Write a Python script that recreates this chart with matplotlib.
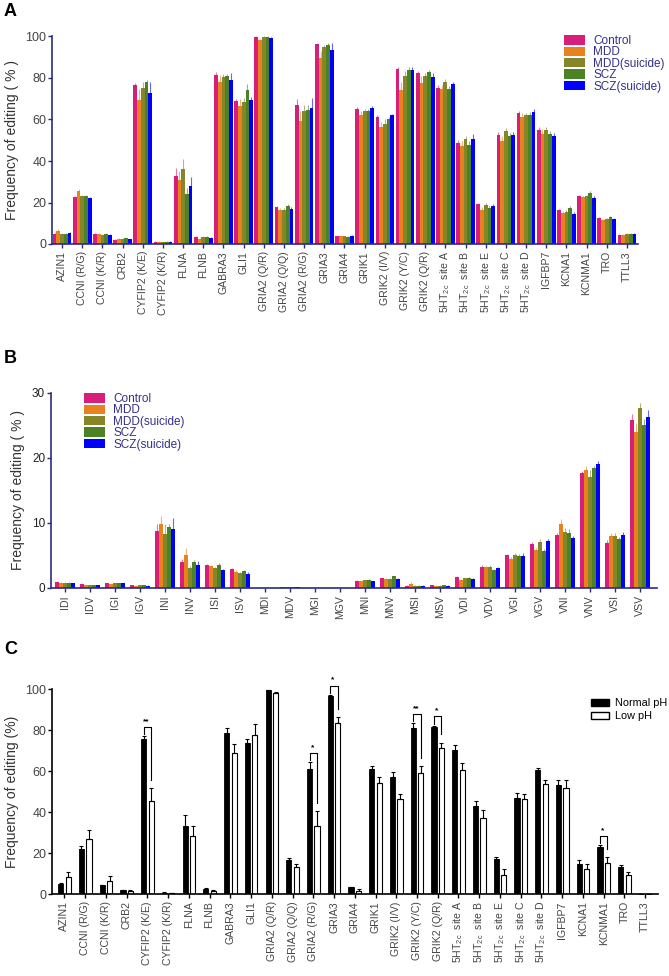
import numpy as np
import matplotlib
matplotlib.use("Agg")
import matplotlib.pyplot as plt
from matplotlib.patches import Patch

plt.rcParams["font.family"] = ["Liberation Sans", "DejaVu Sans"]
plt.rcParams["mathtext.fontset"] = "custom"
plt.rcParams["mathtext.rm"] = "Liberation Sans"
plt.rcParams["mathtext.default"] = "regular"

# ---------------- data ----------------
genes = ["AZIN1", "CCNI (R/G)", "CCNI (K/R)", "CRB2", "CYFIP2 (K/E)", "CYFIP2 (K/R)",
         "FLNA", "FLNB", "GABRA3", "GLI1", "GRIA2 (Q/R)", "GRIA2 (Q/Q)", "GRIA2 (R/G)",
         "GRIA3", "GRIA4", "GRIK1", "GRIK2 (I/V)", "GRIK2 (Y/C)", "GRIK2 (Q/R)",
         "5HT$_{2c}$  site A", "5HT$_{2c}$  site B", "5HT$_{2c}$  site E",
         "5HT$_{2c}$  site C", "5HT$_{2c}$  site D", "IGFBP7", "KCNA1", "KCNMA1", "TRO", "TTLL3"]

groups = ["Control", "MDD", "MDD(suicide)", "SCZ", "SCZ(suicide)"]
group_colors = ["#D81E78", "#E8821E", "#85852A", "#4B8226", "#0000FF"]

a_control = [5, 22.5, 5, 2, 76.5, 1.2, 33, 3.3, 81.5, 69, 99.8, 17.8, 67, 96.5, 3.7, 65, 61, 84.5,
             82.5, 75, 48.5, 19.3, 52.5, 63, 55, 16.5, 23, 12.5, 4.5]
a_mdd = [6.5, 25.5, 5, 2.5, 69.5, 1.2, 31, 2.5, 78, 66.5, 98.5, 16.5, 59.5, 89.5, 3.7, 62, 56.5, 74,
         77.5, 74.5, 47, 16.5, 49.5, 61, 53, 15, 22.5, 11.5, 4.3]
a_mdd_s = [5, 23, 4.5, 2.5, 75, 1, 36, 3.3, 80.5, 68.5, 99.8, 16.5, 64, 95, 3.7, 64, 58, 81,
           81, 78, 50.5, 19, 54.5, 62, 55, 15.5, 23, 12, 4.8]
a_scz = [5, 23, 4.8, 2.8, 78, 1.2, 24, 3.3, 81, 74, 99.8, 18.5, 64.5, 96, 3.5, 64, 60, 84,
         83, 74.5, 47.5, 17.5, 52, 62, 53, 17.5, 24.5, 12.8, 5]
a_scz_s = [5.5, 22, 4.3, 2.3, 73, 1.2, 28, 2.8, 79, 69.5, 99.3, 17, 65.5, 93.5, 4, 65.5, 62, 84,
           80.5, 77, 50.5, 18.3, 52.5, 63.5, 52, 14.5, 22, 12, 4.8]

a_err_control = [0.5, 0.7, 0.3, 0.3, 1.3, 0.2, 3.5, 0.4, 1.3, 1, 0.2, 0.5, 3, 0.5, 0.2, 1.2, 1.3, 1,
                 0.7, 1.5, 1.5, 0.5, 1.3, 1, 1.5, 0.5, 0.5, 0.5, 0.3]
a_err_mdd = [0.7, 1, 0.3, 0.3, 5, 0.2, 4, 0.4, 3.5, 3.5, 0.5, 0.8, 4.5, 3.5, 0.2, 2, 2.5, 4,
             3.5, 2, 2.5, 1.5, 2.5, 2, 2.5, 1, 0.8, 0.6, 0.3]
a_err_mdd_s = [0.5, 0.8, 0.3, 0.3, 3, 0.2, 5, 0.4, 1.5, 2, 0.2, 0.8, 3, 1, 0.2, 1.2, 2, 2.5,
               1.5, 1.3, 1.5, 0.8, 1.3, 1.3, 1.5, 1, 0.8, 0.6, 0.3]
a_err_scz = [0.5, 0.8, 0.3, 0.3, 1.2, 0.2, 3, 0.4, 1, 3, 0.2, 1, 2.5, 0.8, 0.2, 1.2, 1.2, 1.5,
             0.8, 1.5, 2, 1, 1.3, 1.5, 1.5, 0.8, 1, 0.6, 0.3]
a_err_scz_s = [0.5, 0.6, 0.3, 0.3, 5, 0.2, 4.5, 0.4, 3.5, 1.5, 0.3, 0.7, 5, 3.5, 0.2, 1, 0.8, 1.5,
               2, 1.2, 2.5, 1, 1.5, 1.5, 1.5, 0.8, 1, 0.6, 0.3]

motifs = ["IDI", "IDV", "IGI", "IGV", "INI", "INV", "ISI", "ISV", "MDI", "MDV", "MGI", "MGV",
          "MNI", "MNV", "MSI", "MSV", "VDI", "VDV", "VGI", "VGV", "VNI", "VNV", "VSI", "VSV"]

b_control = [0.9, 0.6, 0.7, 0.4, 8.8, 4.0, 3.5, 2.9, 0.05, 0.1, 0.05, 0, 1.1, 1.5, 0.3, 0.4,
             1.7, 3.3, 5.0, 6.8, 8.1, 17.6, 6.9, 25.8]
b_mdd = [0.8, 0.4, 0.6, 0.3, 9.8, 5.0, 3.4, 2.5, 0.05, 0.1, 0.05, 0, 1.0, 1.4, 0.6, 0.3,
         1.3, 3.2, 4.5, 5.8, 9.8, 18.1, 8.0, 23.9]
b_mdd_s = [0.8, 0.4, 0.7, 0.4, 8.3, 3.1, 3.0, 2.3, 0.05, 0.1, 0.05, 0, 1.2, 1.4, 0.3, 0.3,
           1.5, 3.3, 5.0, 7.1, 8.6, 17.0, 8.0, 27.6]
b_scz = [0.8, 0.4, 0.7, 0.4, 9.4, 4.0, 3.6, 2.6, 0.05, 0.1, 0.05, 0, 1.3, 1.8, 0.3, 0.4,
         1.6, 2.7, 4.9, 5.7, 8.4, 18.4, 7.5, 25.0]
b_scz_s = [0.7, 0.4, 0.7, 0.3, 9.0, 3.6, 2.7, 2.2, 0.05, 0.1, 0.05, 0, 1.0, 1.4, 0.3, 0.3,
           1.4, 3.0, 4.9, 7.2, 7.7, 19.1, 8.2, 26.2]

b_err_control = [0.1, 0.1, 0.1, 0.1, 1.0, 0.5, 0.2, 0.2, 0, 0, 0, 0, 0.1, 0.1, 0.1, 0.1,
                 0.1, 0.2, 0.2, 0.3, 0.4, 0.4, 0.4, 1.0]
b_err_mdd = [0.1, 0.1, 0.1, 0.1, 1.2, 1.2, 0.2, 0.2, 0, 0, 0, 0, 0.1, 0.1, 0.3, 0.1,
             0.1, 0.2, 0.3, 0.4, 0.8, 0.6, 0.5, 1.5]
b_err_mdd_s = [0.1, 0.1, 0.1, 0.1, 1.5, 0.3, 0.2, 0.2, 0, 0, 0, 0, 0.1, 0.1, 0.1, 0.1,
               0.1, 0.2, 0.3, 0.4, 0.6, 1.2, 0.5, 0.8]
b_err_scz = [0.1, 0.1, 0.1, 0.1, 0.5, 0.3, 0.2, 0.2, 0, 0, 0, 0, 0.1, 0.1, 0.1, 0.1,
             0.1, 0.2, 0.3, 0.3, 0.6, 0.3, 0.4, 1.0]
b_err_scz_s = [0.1, 0.1, 0.1, 0.1, 1.8, 0.5, 0.2, 0.2, 0, 0, 0, 0, 0.1, 0.1, 0.1, 0.1,
               0.1, 0.2, 0.4, 0.3, 0.3, 0.4, 0.4, 1.2]

c_normal = [4.8, 22.3, 4.3, 2.1, 75.8, 0.8, 33.3, 2.6, 78.5, 73.6, 99.5, 16.6, 61, 96.5, 3.4,
            61.2, 57, 81.3, 81.8, 70.5, 43, 17, 47.2, 60.5, 53.2, 15, 23, 13.3, 0]
c_low = [8.3, 26.8, 6.3, 1.8, 45.5, 0.5, 28.3, 1.8, 69, 77.5, 98.3, 13.2, 33.5, 83.8, 1.8,
         54.5, 46.3, 59, 71.5, 60.5, 37.3, 9.5, 46.3, 53.7, 52, 12.5, 15.5, 9.2, 0]
c_err_normal = [0.5, 1.2, 0.3, 0.2, 1.3, 0.2, 5.3, 0.4, 2.7, 2.3, 0.2, 1.2, 3.3, 0.8, 0.2,
                1.3, 2.7, 2.2, 0.5, 2.3, 2.5, 1.3, 2.3, 1.3, 2.8, 1.7, 1, 0.8, 0]
c_err_low = [2.5, 4.5, 2.5, 0.3, 6.5, 0.1, 5, 0.4, 4.5, 5.5, 0.3, 1.5, 7, 2.8, 0.8,
             2.8, 2.8, 3.7, 2.5, 3.7, 4, 2.8, 2.8, 2.3, 3.8, 2.3, 2.7, 1.5, 0]
c_sig = {"CYFIP2 (K/E)": "**", "GRIA2 (R/G)": "*", "GRIA3": "*",
         "GRIK2 (Y/C)": "**", "GRIK2 (Q/R)": "*", "KCNMA1": "*"}

NAVY = "#2B2B7E"
TICKC = "#444444"
W, H = 669, 976


def px_axes(left, top, right, bottom):
    return fig.add_axes([left / W, 1 - bottom / H, (right - left) / W, (bottom - top) / H])


def style_axes(ax, color, labelsize_x=7.6):
    for s in ["top", "right"]:
        ax.spines[s].set_visible(False)
    for s in ["left", "bottom"]:
        ax.spines[s].set_color(color)
        ax.spines[s].set_linewidth(1.2)
    ax.tick_params(axis="both", colors=color, length=3, width=1)
    ax.tick_params(axis="x", labelsize=labelsize_x, labelcolor=TICKC, pad=2)
    ax.tick_params(axis="y", labelsize=9, labelcolor=TICKC, pad=1)


def grouped(ax, labels, series, errs, width):
    x = np.arange(len(labels))
    for k, (vals, err) in enumerate(zip(series, errs)):
        xs = x + (k - 2) * width
        ax.bar(xs, vals, width=width, color=group_colors[k], linewidth=0)
        ax.errorbar(xs, vals, yerr=[np.zeros(len(vals)), err], fmt="none",
                    ecolor=group_colors[k], elinewidth=0.8, capsize=0, alpha=0.6, clip_on=False)
    ax.set_xticks(x)
    ax.set_xticklabels(labels, rotation=90)


def group_legend(ax, x_px, y_px):
    handles = [Patch(facecolor=c, edgecolor="none", label=g) for g, c in zip(groups, group_colors)]
    leg = ax.legend(handles=handles, loc="upper left", bbox_to_anchor=(x_px / W, 1 - y_px / H),
                    bbox_transform=fig.transFigure, frameon=False, fontsize=8.5, borderpad=0,
                    labelspacing=-0.05, handlelength=1.8, handleheight=0.85, handletextpad=0.7)
    for t in leg.get_texts():
        t.set_color("#34308A")


fig = plt.figure(figsize=(W / 100, H / 100), dpi=100)

# ---------------- panel A ----------------
axA = px_axes(52, 36.5, 638, 244)
grouped(axA, genes, [a_control, a_mdd, a_mdd_s, a_scz, a_scz_s],
        [a_err_control, a_err_mdd, a_err_mdd_s, a_err_scz, a_err_scz_s], 0.185)
axA.set_xlim(-0.5, 28.55)
axA.set_ylim(0, 100)
axA.set_yticks([0, 20, 40, 60, 80, 100])
style_axes(axA, NAVY)
axA.set_ylabel("Frequency of editing ( % )", fontsize=10, color="#333333")
axA.yaxis.set_label_coords(-0.057, 0.5)
group_legend(axA, 558, 29)

# ---------------- panel B ----------------
axB = px_axes(50.7, 392.7, 657.5, 588)
grouped(axB, motifs, [b_control, b_mdd, b_mdd_s, b_scz, b_scz_s],
        [b_err_control, b_err_mdd, b_err_mdd_s, b_err_scz, b_err_scz_s], 0.16)
axB.set_xlim(-0.57, 23.7)
axB.set_ylim(0, 30)
axB.set_yticks([0, 10, 20, 30])
style_axes(axB, NAVY)
axB.tick_params(axis="y", labelsize=8.5, labelcolor="#222222")
axB.set_ylabel("Frequency of editing ( % )", fontsize=10, color="#333333")
axB.yaxis.set_label_coords(-0.042, 0.5)
group_legend(axB, 78, 387)

# ---------------- panel C ----------------
axC = px_axes(52, 689.3, 657.6, 894.3)
xc = np.arange(len(genes))
off, bw = 0.18, 0.25
axC.bar(xc - off, c_normal, width=bw, color="black", edgecolor="black", linewidth=0.6)
axC.bar(xc + off, c_low, width=bw, color="white", edgecolor="black", linewidth=0.8)
axC.errorbar(xc - off, c_normal, yerr=[np.zeros(len(xc)), c_err_normal], fmt="none",
             ecolor="black", elinewidth=0.8, capsize=1.5, capthick=0.8)
axC.errorbar(xc + off, c_low, yerr=[np.zeros(len(xc)), c_err_low], fmt="none",
             ecolor="black", elinewidth=0.8, capsize=1.5, capthick=0.8)
for name, star in c_sig.items():
    i = genes.index(name)
    yl = c_normal[i] + c_err_normal[i] + 1
    yr = c_low[i] + c_err_low[i] + 4
    yt = c_normal[i] + c_err_normal[i] + 4.5
    axC.plot([i - off, i - off, i + off, i + off], [yl, yt, yt, yr], color="black",
             lw=0.8, clip_on=False)
    axC.text(i - 0.05, yt + 1, star, ha="center", va="bottom", fontsize=6, fontweight="bold")
axC.set_xticks(xc)
axC.set_xticklabels(genes, rotation=90)
axC.set_xlim(-0.6, 28.6)
axC.set_ylim(0, 100)
axC.set_yticks([0, 20, 40, 60, 80, 100])
style_axes(axC, "black")
axC.set_ylabel("Frequency of editing (%)", fontsize=10, color="#333333")
axC.yaxis.set_label_coords(-0.055, 0.5)
hC = [Patch(facecolor="black", edgecolor="black", label="Normal pH"),
      Patch(facecolor="white", edgecolor="black", label="Low pH")]
axC.legend(handles=hC, loc="upper left", bbox_to_anchor=(586 / W, 1 - 693 / H),
           bbox_transform=fig.transFigure, frameon=False, fontsize=7.8, borderpad=0,
           labelspacing=0.25, handlelength=1.6, handleheight=0.6, handletextpad=0.6)

# panel letters
for letter, ytop in [("A", 3), ("B", 350), ("C", 641)]:
    fig.text(4 / W, 1 - ytop / H, letter, fontsize=13, fontweight="bold", va="top", ha="left")

fig.savefig("out.png", dpi=100)
